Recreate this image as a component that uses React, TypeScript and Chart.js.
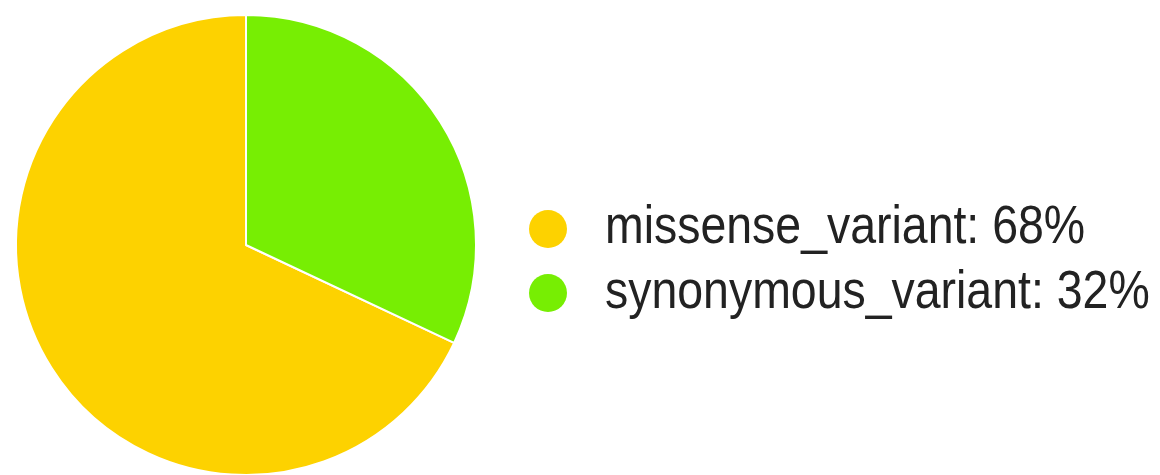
import React, { useEffect, useRef } from "react";
import { Chart, registerables } from "chart.js";

Chart.register(...registerables);

const categories: string[] = ["missense_variant", "synonymous_variant"];
const values: number[] = [68, 32];
const colors: string[] = ["#FDD200", "#77EE03"];

export default function App() {
  const canvasRef = useRef<HTMLCanvasElement | null>(null);

  useEffect(() => {
    const canvas = canvasRef.current;
    if (!canvas) return;
    const total = values.reduce((a, b) => a + b, 0);
    const chart = new Chart(canvas, {
      type: "pie",
      data: {
        labels: categories,
        datasets: [
          {
            data: values,
            backgroundColor: colors,
            borderColor: "#ffffff",
            borderWidth: 2,
          },
        ],
      },
      options: {
        responsive: false,
        animation: false,
        rotation: (values[1] / total) * 360,
        layout: { padding: { left: 15, top: 14, right: 683, bottom: 4 } },
        plugins: {
          legend: { display: false },
          tooltip: { enabled: false },
        },
      },
    });
    return () => chart.destroy();
  }, []);

  const total = values.reduce((a, b) => a + b, 0);

  return (
    <div
      style={{
        position: "fixed",
        left: 0,
        top: 0,
        width: 1160,
        height: 475,
        overflow: "hidden",
        background: "#ffffff",
      }}
    >
      <canvas
        ref={canvasRef}
        width={1160}
        height={480}
        style={{ position: "absolute", left: 0, top: 0, width: 1160, height: 480 }}
      />
      {categories.map((c, i) => (
        <div key={c}>
          <div
            style={{
              position: "absolute",
              left: 529,
              top: 210 + i * 64,
              width: 38,
              height: 38,
              borderRadius: "50%",
              background: colors[i],
            }}
          />
          <div
            style={{
              position: "absolute",
              left: 605,
              top: 197 + i * 65,
              fontFamily: "'Liberation Sans', Arial, sans-serif",
              fontSize: 54,
              lineHeight: "54px",
              color: "#222222",
              whiteSpace: "nowrap",
              transform: "scaleX(0.86)",
              transformOrigin: "left center",
            }}
          >
            {c}: {Math.round((values[i] / total) * 100)}%
          </div>
        </div>
      ))}
    </div>
  );
}
